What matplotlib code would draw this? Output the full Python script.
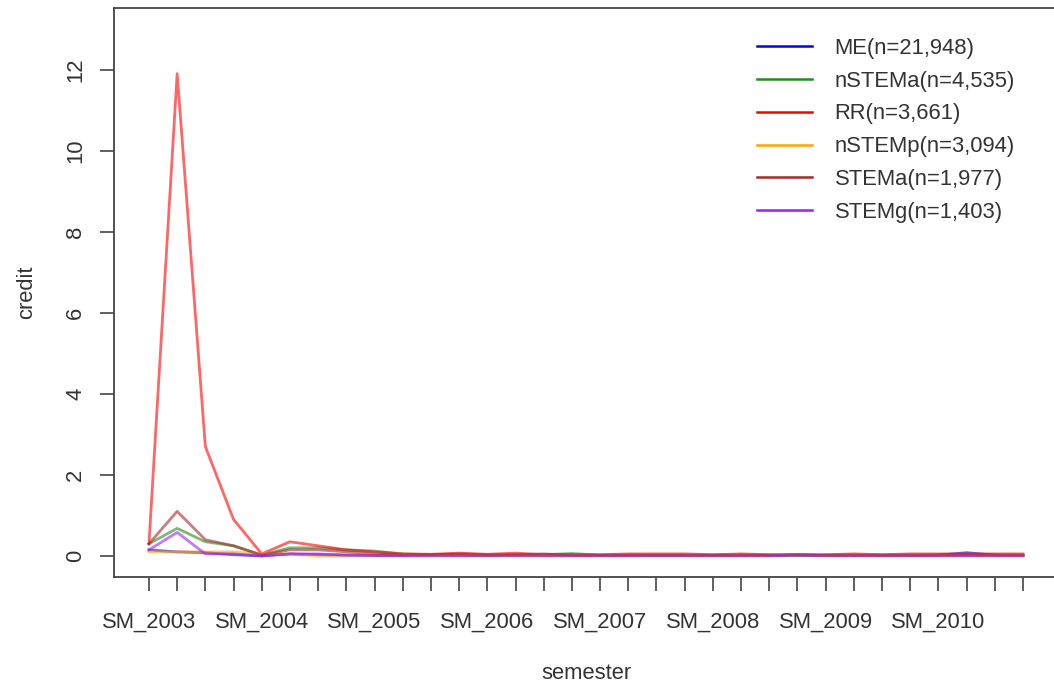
import numpy as np
import matplotlib.pyplot as plt
from matplotlib.lines import Line2D

plt.rcParams['font.family'] = ['Liberation Sans', 'DejaVu Sans']

# semesters (only every 4th one labelled, like the R axis did)
semesters = ['SM_2003', '', '', '', 'SM_2004', '', '', '', 'SM_2005', '', '', '',
             'SM_2006', '', '', '', 'SM_2007', '', '', '', 'SM_2008', '', '', '',
             'SM_2009', '', '', '', 'SM_2010', '', '', '']

ME = [0.15, 0.10, 0.08, 0.03, 0.00, 0.05, 0.03, 0.02, 0.01, 0.01, 0.02, 0.01, 0.01, 0.02, 0.01, 0.01,
      0.01, 0.01, 0.01, 0.01, 0.01, 0.01, 0.01, 0.01, 0.01, 0.01, 0.01, 0.01, 0.02, 0.08, 0.02, 0.01]
nSTEMa = [0.30, 0.68, 0.35, 0.25, 0.02, 0.20, 0.20, 0.15, 0.12, 0.05, 0.03, 0.03, 0.02, 0.02, 0.03, 0.06,
          0.02, 0.02, 0.02, 0.02, 0.02, 0.02, 0.02, 0.02, 0.02, 0.02, 0.02, 0.02, 0.02, 0.02, 0.02, 0.02]
RR = [0.30, 11.9, 2.70, 0.90, 0.05, 0.35, 0.25, 0.15, 0.10, 0.05, 0.04, 0.07, 0.04, 0.07, 0.03, 0.03,
      0.03, 0.05, 0.05, 0.05, 0.03, 0.05, 0.03, 0.03, 0.03, 0.05, 0.03, 0.05, 0.05, 0.05, 0.05, 0.05]
nSTEMp = [0.10, 0.10, 0.10, 0.10, 0.05, 0.05, 0.00, 0.00, 0.02, 0.02, 0.01, 0.01, 0.01, 0.01, 0.01, 0.01,
          0.01, 0.01, 0.01, 0.01, 0.01, 0.01, 0.01, 0.02, 0.01, 0.01, 0.01, 0.01, 0.01, 0.01, 0.01, 0.01]
STEMa = [0.30, 1.10, 0.40, 0.25, 0.02, 0.15, 0.15, 0.10, 0.05, 0.03, 0.03, 0.05, 0.03, 0.03, 0.05, 0.02,
         0.02, 0.02, 0.02, 0.02, 0.02, 0.02, 0.02, 0.02, 0.02, 0.02, 0.02, 0.02, 0.02, 0.02, 0.02, 0.02]
STEMg = [0.15, 0.58, 0.05, 0.05, 0.00, 0.05, 0.05, 0.02, 0.01, 0.00, 0.00, 0.00, 0.00, 0.00, 0.00, 0.00,
         0.00, 0.00, 0.00, 0.00, 0.00, 0.00, 0.00, 0.04, 0.00, 0.00, 0.00, 0.00, 0.00, 0.00, 0.00, 0.00]

series = [ME, nSTEMa, RR, nSTEMp, STEMa, STEMg]
labels = ['ME(n=21,948)', 'nSTEMa(n=4,535)', 'RR(n=3,661)', 'nSTEMp(n=3,094)',
          'STEMa(n=1,977)', 'STEMg(n=1,403)']
colors = ['#0000ff', '#228b22', '#ff0000', '#ffa500', '#a52a2a', '#a020f0']

fig = plt.figure(figsize=(10.54, 6.85), dpi=100)
ax = fig.add_axes([114 / 1054, 108 / 685, 944 / 1054, 569 / 685])

x = np.arange(len(semesters))
for vals, col in zip(series, colors):
    ax.plot(x, vals, color=col, lw=2.0, alpha=0.6)

ax.set_xlim(-0.04 * 31, 31 + 0.04 * 31)
ax.set_ylim(-0.52, 13.52)
ax.set_xticks(x)
ax.set_xticklabels(semesters, fontsize=15.8, color='#333333')
ax.set_yticks([0, 2, 4, 6, 8, 10, 12])
ax.set_yticklabels(['0', '2', '4', '6', '8', '10', '12'], fontsize=15.8, rotation=90,
                   va='center', color='#333333')
ax.tick_params(length=10, width=1.2, color='#444444')
ax.tick_params(axis='x', pad=15)
ax.tick_params(axis='y', pad=10)
for s in ax.spines.values():
    s.set_color('#444444')
    s.set_linewidth(1.3)

ax.set_xlabel('semester', fontsize=15.8, color='#333333', labelpad=22)
ax.set_ylabel('credit', fontsize=15.8, color='#333333', labelpad=20)

handles = [Line2D([0], [0], color=c, lw=1.8) for c in colors]
fig.legend(handles, labels, loc='upper left', bbox_to_anchor=(737 / 1054, 1 - 18 / 685),
           frameon=False, fontsize=15.8, handlelength=2.5, handletextpad=1.05,
           labelspacing=0.54, labelcolor='#333333')

fig.savefig('out.png', dpi=100)
